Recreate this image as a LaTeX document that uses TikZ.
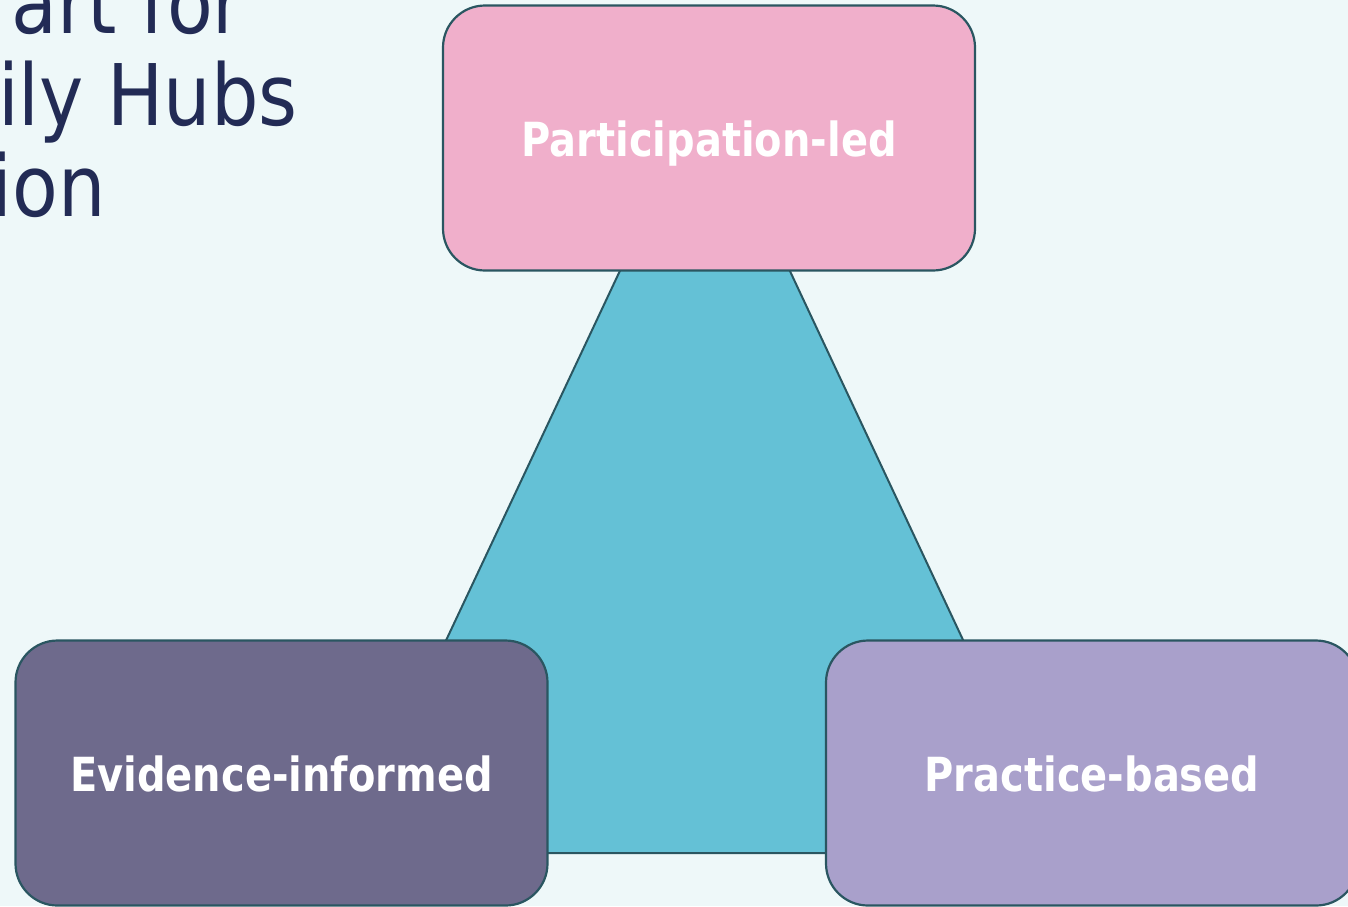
\documentclass[tikz,border=0pt]{standalone}
\usepackage{fontspec}
\setmainfont{DejaVu Sans}[FakeStretch=0.85]
\newfontfamily\headingfont{DejaVu Sans}[FakeStretch=0.88]
\definecolor{bgcol}{HTML}{EEF8F9}
\definecolor{edgecol}{HTML}{2A5661}
\definecolor{tricol}{HTML}{64C1D6}
\definecolor{pinkcol}{HTML}{F0AFCB}
\definecolor{darkpurple}{HTML}{6E6A8C}
\definecolor{lightpurple}{HTML}{A9A0CB}
\definecolor{titlecol}{HTML}{222B55}
\tikzset{
  pillarbox/.style={draw=edgecol, line width=2.2pt, rounded corners=42pt,
    minimum width=532pt, minimum height=265pt, inner sep=0pt,
    text height=36pt, text depth=0pt,
    text=white, font=\fontsize{47}{54}\selectfont\bfseries},
  titleline/.style={anchor=base east, inner sep=0pt, text=titlecol,
    font=\headingfont\fontsize{85}{92}\selectfont}
}
\begin{document}
\begin{tikzpicture}[x=1pt, y=-1pt]
  \useasboundingbox (0,0) rectangle (1348,906);
  \clip (0,0) rectangle (1348,906);
  \fill[bgcol] (0,0) rectangle (1348,906);

  % heading, running in from the left edge
  \node[titleline] (t1) at (244,33) {art for};
  \node[titleline] (t2) at (298,125) {ily Hubs};
  \node[titleline] (t3) at (106,216) {ion};

  % central triangle behind the three boxes
  \coordinate (apex) at (705,90);
  \coordinate (bl) at (346,853);
  \coordinate (br) at (1063,853);
  \draw[edgecol, line width=2pt, fill=tricol, line join=miter] (apex) -- (bl) -- (br) -- cycle;

  % the three boxes
  \node[pillarbox, fill=pinkcol] (top) at (709,138) {Participation-led};
  \node[pillarbox, fill=darkpurple] (left) at (281.5,773) {Evidence-informed};
  \node[pillarbox, fill=lightpurple] (right) at (1092,773) {Practice-based};
\end{tikzpicture}
\end{document}
